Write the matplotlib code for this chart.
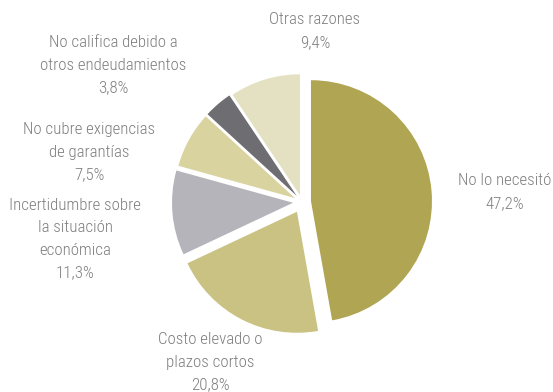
import matplotlib.pyplot as plt

# Reasons for not requesting credit (% of firms)
labels = [
    "No lo necesitó",
    "Costo elevado o\nplazos cortos",
    "Incertidumbre sobre\nla situación\neconómica",
    "No cubre exigencias\nde garantías",
    "No califica debido a\notros endeudamientos",
    "Otras razones",
]
shares = [47.2, 20.8, 11.3, 7.5, 3.8, 9.4]
colors = ["#b0a552", "#c9c283", "#b5b4ba", "#d9d3a0", "#6e6d72", "#e4e1c2"]
explode = [9, 11, 9, 8, 8, 7]

# label anchor points in pixels (x, y from top)
label_pos = [(505, 192), (210, 362), (75, 239), (89, 152), (113, 65), (315, 31)]

W, H = 553, 392
fig = plt.figure(figsize=(W / 100, H / 100), dpi=100)
ax = fig.add_axes([0, 0, 1, 1])

ax.pie(shares, colors=colors, startangle=90, counterclock=False,
       center=(302, H - 202), radius=121, explode=explode,
       wedgeprops=dict(linewidth=0), frame=True)
ax.set_xlim(0, W)
ax.set_ylim(0, H)
ax.set_aspect("equal")
ax.axis("off")

fam = ["Roboto Condensed", "Liberation Sans Narrow", "Roboto", "DejaVu Sans"]
for lab, val, (x, y) in zip(labels, shares, label_pos):
    txt = lab + "\n" + f"{val:.1f}%".replace(".", ",")
    ax.text(x, H - y, txt, ha="center", va="center", fontsize=12.2,
            color="#7e7e7e", linespacing=1.62, family=fam,
            fontweight="light")

fig.savefig("out.png", dpi=100)
